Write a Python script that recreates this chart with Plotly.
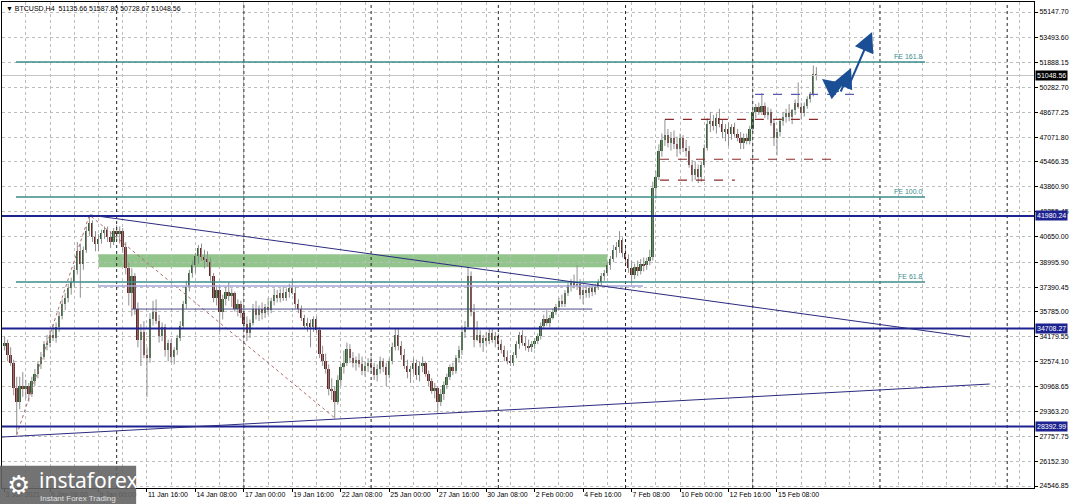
import pandas as pd
import plotly.graph_objects as go

# --- BTCUSD H4 candles, 3 Jan 2021 20:00 .. 17 Feb 2021 12:00 ---
symbol = "BTCUSD,H4"
first_bar = "2021-01-03 20:00"

opens = [
    33600,
    33800, 33000, 32500, 30900, 30000, 31000,   # 4 Jan
    30800, 31000, 30500, 31300, 31800, 32400,   # 5 Jan
    32900, 33700, 33800, 34300, 34100, 34800,   # 6 Jan
    35500, 36300, 36700, 37300, 37700, 38500,   # 7 Jan
    39700, 38900, 39800, 41000, 41500, 40600,   # 8 Jan
    40200, 40500, 40900, 41100, 40600, 40300,   # 9 Jan
    41000, 40800, 41000, 40000, 38600, 37000,   # 10 Jan
    38100, 36000, 34000, 34500, 33000, 32800,   # 11 Jan
    35300, 35800, 35200, 34200, 34800, 33300,   # 12 Jan
    33800, 32900, 33300, 34100, 34900, 36300,   # 13 Jan
    37400, 38300, 38800, 39400, 39900, 39300,   # 14 Jan
    39200, 39000, 38100, 36700, 37200, 35800,   # 15 Jan
    36600, 37100, 36800, 37000, 36000, 36300,   # 16 Jan
    35700, 35000, 34400, 35100, 36000, 35600,   # 17 Jan
    36000, 35700, 36100, 35900, 36500, 36900,   # 18 Jan
    36700, 37000, 36700, 37100, 37300, 37000,   # 19 Jan
    36300, 36000, 35400, 34900, 35100, 34800,   # 20 Jan
    35300, 34600, 33100, 32600, 32100, 30800,   # 21 Jan
    30700, 30000, 31400, 32200, 32500, 33400,   # 22 Jan
    32800, 32500, 32700, 32400, 32000, 32300,   # 23 Jan
    32500, 32200, 31700, 32100, 32600, 32200,   # 24 Jan
    31700, 32600, 33500, 34300, 33600, 33000,   # 25 Jan
    32300, 31900, 32100, 32500, 31700, 32300,   # 26 Jan
    32500, 31800, 31300, 30700, 30900, 30000,   # 27 Jan
    30500, 31100, 31600, 32200, 32000, 32800,   # 28 Jan
    33300, 34500, 34800, 38100, 35800, 34000,   # 29 Jan
    34300, 33800, 34100, 33900, 34400, 34000,   # 30 Jan
    34200, 33700, 33300, 32900, 32600, 32500,   # 31 Jan
    33000, 33700, 34300, 33800, 33600, 33500,   # 1 Feb
    33700, 33900, 34200, 34900, 35300, 35100,   # 2 Feb
    35400, 35800, 36100, 36500, 36300, 37000,   # 3 Feb
    37500, 37700, 37500, 37600, 36900, 37200,   # 4 Feb
    37000, 37300, 37100, 37400, 37700, 38100,   # 5 Feb
    38300, 38800, 39200, 39800, 40000, 40400,   # 6 Feb
    39600, 39200, 38600, 38200, 38700, 38400,   # 7 Feb
    38900, 38800, 39100, 39300, 43800, 44500,   # 8 Feb
    46200, 46900, 47200, 46700, 47000, 46600,   # 9 Feb
    46300, 47000, 46400, 46200, 45300, 44600,   # 10 Feb
    45000, 44500, 45300, 46400, 47900, 48100,   # 11 Feb
    47800, 48300, 47900, 47400, 47600, 47300,   # 12 Feb
    47700, 47300, 47000, 46700, 47000, 46800,   # 13 Feb
    47600, 48700, 49000, 48700, 49100, 48500,   # 14 Feb
    48700, 48000, 47000, 47400, 48100, 48400,   # 15 Feb
    48600, 48400, 48800, 49300, 49000, 48600,   # 16 Feb
    49100, 49500, 49800, 51135.66,              # 17 Feb
]
highs = [
    34200,
    34000, 33500, 32700, 31600, 31600, 31900,
    31400, 31200, 31600, 32100, 32600, 33200,
    33900, 34300, 34600, 35000, 35100, 35800,
    36600, 37000, 37600, 38000, 38800, 40300,
    40200, 40000, 41300, 42000, 41700, 41000,
    40800, 41100, 41300, 41300, 41000, 41200,
    41400, 41300, 41200, 40300, 39000, 38600,
    38300, 36400, 35000, 35200, 33500, 35700,
    36500, 36600, 35600, 35100, 35000, 34000,
    34000, 33500, 34300, 35200, 36500, 37800,
    38500, 39100, 39600, 40100, 40200, 39800,
    39700, 39300, 38300, 37500, 37400, 36900,
    37400, 37700, 37300, 37100, 36600, 36500,
    36000, 35500, 35300, 36300, 36500, 36200,
    36400, 36300, 36700, 36700, 37300, 37200,
    37300, 37400, 37300, 37600, 37950, 37400,
    36600, 36200, 35600, 35400, 35300, 35500,
    35500, 34800, 33600, 33100, 32400, 31500,
    31000, 31700, 32400, 33300, 33800, 33700,
    33200, 32900, 33100, 32900, 32600, 32800,
    32900, 32500, 32400, 32900, 32800, 32500,
    32800, 33800, 34700, 34700, 33900, 33400,
    32700, 32300, 32800, 32700, 32600, 32900,
    32600, 32000, 31500, 31200, 31000, 30800,
    31300, 31800, 32400, 32500, 33000, 33600,
    34900, 35200, 38700, 38400, 36300, 35200,
    34600, 34300, 34500, 34700, 34700, 34500,
    34400, 34000, 33600, 33300, 33000, 33200,
    33900, 34500, 34600, 34200, 34000, 33900,
    34100, 34400, 35100, 35600, 35900, 35600,
    36000, 36300, 36700, 36900, 37200, 37700,
    37900, 38200, 38800, 37900, 37400, 37500,
    37500, 37600, 37600, 37900, 38300, 38500,
    39000, 39400, 40100, 40300, 41000, 40600,
    40000, 39500, 39100, 38900, 39100, 39200,
    39300, 39300, 39800, 44200, 44900, 46600,
    47300, 48200, 47600, 47400, 47500, 47100,
    47300, 47200, 46900, 46500, 45600, 45500,
    45300, 45500, 46600, 48300, 48700, 48500,
    48600, 48900, 48200, 47900, 48000, 47900,
    48000, 47600, 47400, 47300, 47300, 47800,
    48900, 49200, 49300, 49900, 49300, 49000,
    48900, 48200, 47600, 48300, 48700, 48900,
    49200, 48900, 49500, 50600, 49300, 49300,
    49700, 50000, 51700, 51587.80,
]
lows = [
    33300,
    32600, 32300, 30400, 27900, 29500, 30300,
    30200, 30000, 30300, 31000, 31500, 32100,
    32700, 33300, 33500, 33900, 33800, 34500,
    35300, 35900, 36400, 36900, 37400, 38200,
    36700, 38500, 39600, 40700, 40300, 39700,
    39700, 40200, 40500, 40300, 39900, 40100,
    40500, 40200, 39600, 38200, 36200, 35500,
    35600, 33500, 32300, 32800, 30300, 32500,
    34900, 35000, 33800, 33900, 32900, 32600,
    32500, 32400, 33000, 33900, 34700, 36000,
    37100, 38000, 38300, 38900, 39100, 38600,
    38700, 37800, 36400, 36200, 34500, 35300,
    36200, 36500, 36100, 35800, 35500, 35400,
    34700, 33900, 34100, 34900, 35300, 35200,
    35300, 35400, 35600, 35700, 36200, 36400,
    36400, 36500, 36500, 36700, 36900, 36000,
    35700, 35200, 34700, 34500, 33500, 34500,
    34400, 32800, 32300, 31800, 30400, 30100,
    28900, 29800, 31000, 31800, 32300, 32500,
    32200, 32000, 32200, 31700, 31600, 31900,
    31900, 31400, 31300, 31800, 31900, 31000,
    31500, 32400, 33300, 33300, 32700, 32100,
    31500, 31200, 31800, 31400, 31300, 31900,
    31600, 31000, 30500, 30200, 29300, 29700,
    30100, 30800, 31400, 31700, 31800, 32500,
    33000, 34100, 34700, 35500, 33500, 33900,
    33500, 33200, 33600, 33700, 33800, 33500,
    33500, 33100, 32600, 32400, 32300, 32300,
    32800, 33400, 33600, 33300, 33200, 33200,
    33400, 33700, 34000, 34700, 34900, 34800,
    35300, 35600, 35900, 36100, 36100, 36800,
    37100, 37300, 37200, 36600, 36300, 36700,
    36700, 36800, 36900, 37200, 37500, 37800,
    38100, 38500, 39000, 39300, 39600, 39300,
    38900, 38300, 37600, 37900, 38100, 38200,
    38400, 38500, 38800, 39100, 43100, 44300,
    45800, 46500, 46400, 46200, 46300, 45800,
    46000, 46100, 45800, 45100, 44200, 44300,
    44100, 44200, 45100, 46200, 47400, 47500,
    47300, 47700, 47000, 46800, 46500, 46900,
    47100, 46800, 46300, 46300, 46600, 46600,
    47400, 48300, 48500, 48500, 48300, 48200,
    47800, 46500, 45900, 47100, 47800, 48000,
    48100, 47900, 48500, 48900, 48200, 48400,
    48900, 49300, 49700, 50728.67,
]
closes = [
    33800,
    33000, 32500, 30900, 30000, 31000, 30800,
    31000, 30500, 31300, 31800, 32400, 32900,
    33700, 33800, 34300, 34100, 34800, 35500,
    36300, 36700, 37300, 37700, 38500, 39700,
    38900, 39800, 41000, 41500, 40600, 40200,
    40500, 40900, 41100, 40600, 40300, 41000,
    40800, 41000, 40000, 38600, 37000, 38100,
    36000, 34000, 34500, 33000, 32800, 35300,
    35800, 35200, 34200, 34800, 33300, 33800,
    32900, 33300, 34100, 34900, 36300, 37400,
    38300, 38800, 39400, 39900, 39300, 39200,
    39000, 38100, 36700, 37200, 35800, 36600,
    37100, 36800, 37000, 36000, 36300, 35700,
    35000, 34400, 35100, 36000, 35600, 36000,
    35700, 36100, 35900, 36500, 36900, 36700,
    37000, 36700, 37100, 37300, 37000, 36300,
    36000, 35400, 34900, 35100, 34800, 35300,
    34600, 33100, 32600, 32100, 30800, 30700,
    30000, 31400, 32200, 32500, 33400, 32800,
    32500, 32700, 32400, 32000, 32300, 32500,
    32200, 31700, 32100, 32600, 32200, 31700,
    32600, 33500, 34300, 33600, 33000, 32300,
    31900, 32100, 32500, 31700, 32300, 32500,
    31800, 31300, 30700, 30900, 30000, 30500,
    31100, 31600, 32200, 32000, 32800, 33300,
    34500, 34800, 38100, 35800, 34000, 34300,
    33800, 34100, 33900, 34400, 34000, 34200,
    33700, 33300, 32900, 32600, 32500, 33000,
    33700, 34300, 33800, 33600, 33500, 33700,
    33900, 34200, 34900, 35300, 35100, 35400,
    35800, 36100, 36500, 36300, 37000, 37500,
    37700, 37500, 37600, 36900, 37200, 37000,
    37300, 37100, 37400, 37700, 38100, 38300,
    38800, 39200, 39800, 40000, 40400, 39600,
    39200, 38600, 38200, 38700, 38400, 38900,
    38800, 39100, 39300, 43800, 44500, 46200,
    46900, 47200, 46700, 47000, 46600, 46300,
    47000, 46400, 46200, 45300, 44600, 45000,
    44500, 45300, 46400, 47900, 48100, 47800,
    48300, 47900, 47400, 47600, 47300, 47700,
    47300, 47000, 46700, 47000, 46800, 47600,
    48700, 49000, 48700, 49100, 48500, 48700,
    48000, 47000, 47400, 48100, 48400, 48600,
    48400, 48800, 49300, 49000, 48600, 49100,
    49500, 49800, 51135.66, 51048.56,
]
assert len(opens) == len(highs) == len(lows) == len(closes)

# price scale labels on the right
y_ticks = [24546.85, 26152.30, 27757.75, 29363.20, 30968.65, 32574.10, 34179.55,
           35785.00, 37390.45, 38995.90, 40650.00, 42255.45, 43860.90, 45466.35,
           47071.80, 48677.25, 50282.70, 51888.15, 53493.60, 55147.70]

# time scale labels
x_ticks = ["2021-01-03 20:00", "2021-01-06 08:00", "2021-01-09 00:00", "2021-01-11 16:00",
           "2021-01-14 08:00", "2021-01-17 00:00", "2021-01-19 16:00", "2021-01-22 08:00",
           "2021-01-25 00:00", "2021-01-27 16:00", "2021-01-30 08:00", "2021-02-02 00:00",
           "2021-02-04 16:00", "2021-02-07 08:00", "2021-02-10 00:00", "2021-02-12 16:00",
           "2021-02-15 08:00"]
x_labels = ["3 Jan 2021", "6 Jan 08:00", "9 Jan 00:00", "11 Jan 16:00", "14 Jan 08:00",
            "17 Jan 00:00", "19 Jan 16:00", "22 Jan 08:00", "25 Jan 00:00", "27 Jan 16:00",
            "30 Jan 08:00", "2 Feb 00:00", "4 Feb 16:00", "7 Feb 08:00", "10 Feb 00:00",
            "12 Feb 16:00", "15 Feb 08:00"]

# weekly period separators
week_starts = ["2021-01-10", "2021-01-17", "2021-01-24", "2021-01-31",
               "2021-02-07", "2021-02-14", "2021-02-21", "2021-02-28"]

# drawn objects
levels = [41980.24, 34708.27, 28392.99]
fe_levels = [51920, 43200, 37720]
fe_names = ["FE 161.8", "FE 100.0", "FE 61.8"]
fe_span = ["2021-01-04 11:00", "2021-02-23 11:30"]
fibo_times = ["2021-01-04 12:00", "2021-01-08 12:00", "2021-01-22 00:00"]
fibo_prices = [27840, 42040, 28940]
zone = ["2021-01-09 00:00", "2021-02-06 00:00", 38665, 39505]
trend_down = [["2021-01-08 12:48", "2021-02-25 23:00"], [42042, 34165]]
trend_up = [["2021-01-03 16:34", "2021-02-27 01:00"], [27709, 31131]]
lavender_line = ["2021-01-09 00:00", "2021-02-07 23:00", 37460]
navy_line = ["2021-01-10 20:00", "2021-02-05 04:00", 35970]
red_dashes = [["2021-02-09 04:00", "2021-02-17 20:45", 48220],
              ["2021-02-08 21:30", "2021-02-18 12:30", 45640],
              ["2021-02-08 21:30", "2021-02-13 00:20", 44300]]
slate_dash = ["2021-02-14 03:00", "2021-02-19 17:40", 49830]
# arrows: tail -> head
arrows = [[("2021-02-18 19:18", 49918), ("2021-02-17 19:30", 50822)],
          [("2021-02-18 19:18", 49918), ("2021-02-19 09:48", 51532)],
          [("2021-02-19 04:24", 50112), ("2021-02-20 13:36", 53856)]]

FONT = "Liberation Sans"
NAVY = "#1c2290"
TEAL = "#3a8c8c"
GRID = "#bdbdbd"

times = pd.date_range(first_bar, periods=len(closes), freq="4h")
bar_ms = 4 * 3600 * 1000 * 0.6

fig = go.Figure()

# wicks
wick_x, wick_y = [], []
for t, h, l in zip(times, highs, lows):
    wick_x += [t, t, None]
    wick_y += [l, h, None]
fig.add_trace(go.Scatter(x=wick_x, y=wick_y, mode="lines",
                         line=dict(color="#8f8f8f", width=1), hoverinfo="skip"))

# bodies
base = [min(o, c) for o, c in zip(opens, closes)]
height = [max(abs(c - o), 40) for o, c in zip(opens, closes)]
colors = ["#2d5e2d" if c >= o else "#6e2323" for o, c in zip(opens, closes)]
fig.add_trace(go.Bar(x=times, y=height, base=base, width=bar_ms,
                     marker=dict(color=colors, line=dict(width=0)), hoverinfo="skip"))

# fibo expansion path
fig.add_trace(go.Scatter(x=fibo_times, y=fibo_prices, mode="lines",
                         line=dict(color="#b06a6a", width=1, dash="dot"), hoverinfo="skip"))

shapes = []
# green zone
shapes.append(dict(type="rect", xref="x", yref="y", x0=zone[0], x1=zone[1], y0=zone[2], y1=zone[3],
                   fillcolor="rgba(110,178,100,0.75)", line=dict(width=0), layer="below"))
# week separators
for w in week_starts:
    shapes.append(dict(type="line", xref="x", yref="paper", x0=w, x1=w, y0=0, y1=1,
                       line=dict(color="#222222", width=1, dash="dot")))
# current price line
shapes.append(dict(type="line", xref="paper", yref="y", x0=0, x1=1, y0=closes[-1], y1=closes[-1],
                   line=dict(color="#c4c4c4", width=1)))
# navy levels
for lv in levels:
    shapes.append(dict(type="line", xref="paper", yref="y", x0=0, x1=1, y0=lv, y1=lv,
                       line=dict(color=NAVY, width=2)))
# FE levels
for lv in fe_levels:
    shapes.append(dict(type="line", xref="x", yref="y", x0=fe_span[0], x1=fe_span[1], y0=lv, y1=lv,
                       line=dict(color=TEAL, width=1.5)))
# thin horizontals
shapes.append(dict(type="line", xref="x", yref="y", x0=lavender_line[0], x1=lavender_line[1],
                   y0=lavender_line[2], y1=lavender_line[2], line=dict(color="#a6a6d8", width=1.5)))
shapes.append(dict(type="line", xref="x", yref="y", x0=navy_line[0], x1=navy_line[1],
                   y0=navy_line[2], y1=navy_line[2], line=dict(color="#4a4a8a", width=1)))
# trend lines
for tl in (trend_down, trend_up):
    shapes.append(dict(type="line", xref="x", yref="y", x0=tl[0][0], x1=tl[0][1],
                       y0=tl[1][0], y1=tl[1][1], line=dict(color="#2a2a80", width=1)))
# dashed boxes
for d in red_dashes:
    shapes.append(dict(type="line", xref="x", yref="y", x0=d[0], x1=d[1], y0=d[2], y1=d[2],
                       line=dict(color="#8b2a2a", width=1.2, dash="dash")))
shapes.append(dict(type="line", xref="x", yref="y", x0=slate_dash[0], x1=slate_dash[1],
                   y0=slate_dash[2], y1=slate_dash[2], line=dict(color="#5a5ab4", width=1.2, dash="dash")))
# logo plate
shapes.append(dict(type="rect", xref="paper", yref="paper", x0=-0.002, x1=0.130, y0=-0.034, y1=0.046,
                   fillcolor="rgba(100,100,100,0.9)", line=dict(width=0), layer="above"))

ann = []
# header
ann.append(dict(xref="paper", yref="paper", x=0.002, y=1, xanchor="left", yanchor="top", yshift=-1,
                showarrow=False, text="▼ %s  %.2f %.2f %.2f %.2f" % (symbol, opens[-1], highs[-1], lows[-1], closes[-1]),
                font=dict(size=7, color="#000", family=FONT)))
# FE labels
for lv, nm in zip(fe_levels, fe_names):
    ann.append(dict(xref="x", yref="y", x=fe_span[1], y=lv, xanchor="right", yanchor="bottom",
                    showarrow=False, text=nm, font=dict(size=7, color=TEAL, family=FONT)))
# price boxes on the axis
for lv in levels:
    ann.append(dict(xref="paper", yref="y", x=1, y=lv, xanchor="left", yanchor="middle", xshift=1,
                    showarrow=False, text="%.2f" % lv, bgcolor=NAVY, borderpad=1,
                    font=dict(size=7, color="white", family=FONT)))
ann.append(dict(xref="paper", yref="y", x=1, y=closes[-1], xanchor="left", yanchor="middle", xshift=1,
                showarrow=False, text="%.2f" % closes[-1], bgcolor="#000", borderpad=1,
                font=dict(size=7, color="white", family=FONT)))
# arrows
for (tx, ty), (hx, hy) in arrows:
    ann.append(dict(xref="x", yref="y", axref="x", ayref="y", x=hx, y=hy, ax=tx, ay=ty,
                    showarrow=True, arrowhead=2, arrowsize=2, arrowwidth=2,
                    arrowcolor="#1a4f96", text=""))
# logo text
ann.append(dict(xref="paper", yref="paper", x=0.003, y=0.006, xanchor="left", yanchor="middle",
                showarrow=False, text="⚙", font=dict(size=26, color="white", family="DejaVu Sans")))
ann.append(dict(xref="paper", yref="paper", x=0.034, y=0.016, xanchor="left", yanchor="middle",
                showarrow=False, text="instaforex", font=dict(size=21, color="white", family="Noto Sans")))
ann.append(dict(xref="paper", yref="paper", x=0.035, y=-0.022, xanchor="left", yanchor="middle",
                showarrow=False, text="Instant Forex Trading", font=dict(size=8, color="#e0e0e0", family=FONT)))

fig.update_layout(
    width=1075, height=504,
    margin=dict(l=2, r=41, t=2, b=16),
    paper_bgcolor="white", plot_bgcolor="white",
    showlegend=False, bargap=0,
    shapes=shapes, annotations=ann,
    font=dict(family=FONT, size=7, color="#000"),
)
fig.update_xaxes(
    type="date", range=["2021-01-03 16:34", "2021-03-01 11:24"],
    tickmode="array", tickvals=x_ticks, ticktext=x_labels,
    ticks="outside", ticklen=3, tickcolor="#000", ticklabelposition="outside right",
    tickangle=0, tickfont=dict(size=7, family=FONT),
    showgrid=False, showline=True, linecolor="#000", linewidth=1, mirror=True, zeroline=False,
    minor=dict(tickmode="linear", tick0="2021-01-11 16:00", dtick=32 * 3600 * 1000,
               showgrid=True, gridcolor=GRID, griddash="dot", gridwidth=1, ticks=""),
)
fig.update_yaxes(
    side="right", range=[24418, 55793],
    tickmode="array", tickvals=y_ticks, ticktext=["%.2f" % v for v in y_ticks],
    ticks="outside", ticklen=3, tickcolor="#000",
    tickfont=dict(size=7, family=FONT),
    showgrid=True, gridcolor=GRID, griddash="dot", gridwidth=1,
    showline=True, linecolor="#000", linewidth=1, mirror=True, zeroline=False,
)

fig.write_html("out.html", config={"displayModeBar": False},
               post_script="document.body.style.margin='0px';document.body.style.overflow='hidden';")
